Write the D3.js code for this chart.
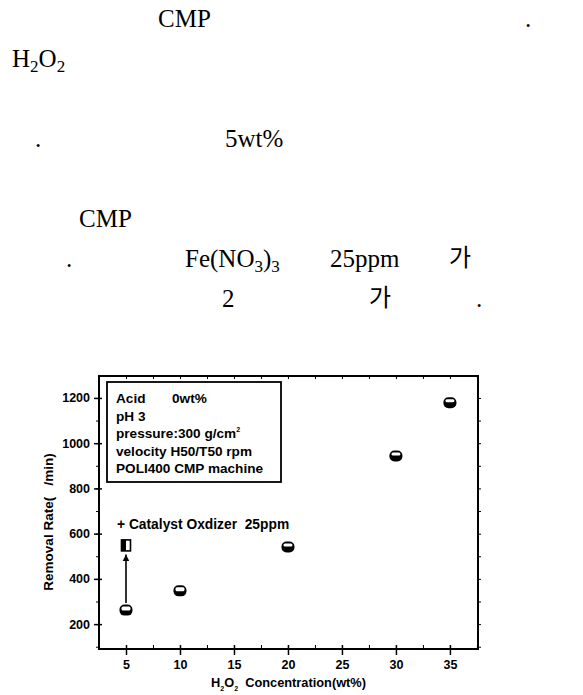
<!DOCTYPE html>
<html>
<head>
<meta charset="utf-8">
<script src="https://cdn.jsdelivr.net/npm/d3@7"></script>
<style>
    body { margin: 0; background: #fff; }
    svg text { fill: #000; }
    .body-text { font-family: "Liberation Serif", "Times New Roman", serif; font-size: 25px; }
    .kor { font-family: "Noto Sans CJK KR", sans-serif; font-size: 24px; }
    .chart-text { font-family: "Liberation Sans", Arial, sans-serif; font-weight: bold; }
</style>
</head>
<body>
<div id="page"></div>
<script>
// H2O2 concentration (wt%) vs removal rate
var concentration = [5, 10, 20, 30, 35]
var removalRate = [262, 347, 541, 943, 1179]
// with catalyst oxidizer Fe(NO3)3 25ppm
var catalystConc = [5]
var catalystRate = [548]

var xTicks = [5, 10, 15, 20, 25, 30, 35]
var yTicks = [200, 400, 600, 800, 1000, 1200]
var legendLines = ['Acid', 'pH 3', 'pressure:300 g/cm', 'velocity H50/T50 rpm', 'POLI400 CMP machine']

var width = 583
var height = 695
var frame = { left: 99, right: 478, top: 376, bottom: 649 }

var svg = d3.select('#page').append('svg')
    .attr('width', width)
    .attr('height', height)

// ---- text above the chart ----
var bodyG = svg.append('g').attr('class', 'body-text')

function put(x, y, str, cls) {
    return bodyG.append('text').attr('x', x).attr('y', y).attr('class', cls || null).text(str)
}

put(158, 27, 'CMP')
put(525, 27, '.')

var h2o2 = bodyG.append('text').attr('x', 12).attr('y', 67)
h2o2.append('tspan').text('H')
h2o2.append('tspan').attr('font-size', '17px').attr('dy', 5).text('2')
h2o2.append('tspan').attr('dy', -5).text('O')
h2o2.append('tspan').attr('font-size', '17px').attr('dy', 5).text('2')

put(35, 147, '.')
put(225, 147, '5wt%')

put(79, 227, 'CMP')
put(66, 267, '.')
var fe = bodyG.append('text').attr('x', 185).attr('y', 267)
fe.append('tspan').text('Fe(NO')
fe.append('tspan').attr('font-size', '17px').attr('dy', 5).text('3')
fe.append('tspan').attr('dy', -5).text(')')
fe.append('tspan').attr('font-size', '17px').attr('dy', 5).text('3')
put(330, 267, '25ppm')
put(449, 266, '가', 'kor')

put(222, 307, '2')
put(369, 306, '가', 'kor')
put(476, 307, '.')

// ---- chart ----
var x = d3.scaleLinear().domain([2.5, 37.6]).range([frame.left, frame.right])
var y = d3.scaleLinear().domain([90, 1297]).range([frame.bottom, frame.top])

var minorX = d3.range(5, 37.6, 2.5)
var minorY = d3.range(100, 1297, 100)

var chart = svg.append('g').attr('class', 'chart-text')

// bottom axis
chart.append('g')
    .attr('transform', 'translate(0,' + frame.bottom + ')')
    .call(d3.axisBottom(x).tickValues(minorX).tickSize(5).tickFormat(''))
    .call(g => g.selectAll('.tick line').attr('y1', -4).attr('y2', 0))
    .call(g => g.select('.domain').remove())
chart.append('g')
    .attr('transform', 'translate(0,' + frame.bottom + ')')
    .call(d3.axisBottom(x).tickValues(xTicks).tickSize(6).tickPadding(5).tickFormat(d3.format('d')))
    .call(g => g.selectAll('.tick line').attr('y1', -4).attr('stroke-width', 1.5))
    .call(g => g.select('.domain').remove())
    .call(g => g.selectAll('text').attr('font-size', '12.5px').attr('font-family', null).attr('font-weight', 'bold'))

// top axis
chart.append('g')
    .attr('transform', 'translate(0,' + frame.top + ')')
    .call(d3.axisTop(x).tickValues(minorX).tickSize(0).tickFormat(''))
    .call(g => g.selectAll('.tick line').attr('y1', 0).attr('y2', 3))
    .call(g => g.select('.domain').remove())

// left axis
chart.append('g')
    .attr('transform', 'translate(' + frame.left + ',0)')
    .call(d3.axisLeft(y).tickValues(minorY).tickSize(3).tickFormat(''))
    .call(g => g.select('.domain').remove())
chart.append('g')
    .attr('transform', 'translate(' + frame.left + ',0)')
    .call(d3.axisLeft(y).tickValues(yTicks).tickSize(5).tickPadding(4).tickFormat(d3.format('d')))
    .call(g => g.selectAll('.tick line').attr('x1', 3).attr('stroke-width', 1.5))
    .call(g => g.select('.domain').remove())
    .call(g => g.selectAll('text').attr('font-size', '12.5px').attr('font-family', null).attr('font-weight', 'bold'))

// right axis
chart.append('g')
    .attr('transform', 'translate(' + frame.right + ',0)')
    .call(d3.axisRight(y).tickValues(minorY).tickSize(3).tickFormat(''))
    .call(g => g.select('.domain').remove())

// frame
chart.append('rect')
    .attr('x', frame.left)
    .attr('y', frame.top)
    .attr('width', frame.right - frame.left)
    .attr('height', frame.bottom - frame.top)
    .attr('fill', 'none')
    .attr('stroke', '#000')
    .attr('stroke-width', 2)

// axis titles
var xTitle = chart.append('text')
    .attr('x', (frame.left + frame.right) / 2)
    .attr('y', 687)
    .attr('text-anchor', 'middle')
    .attr('font-size', '12.8px')
    .style('white-space', 'pre')
xTitle.append('tspan').text('H')
xTitle.append('tspan').attr('font-size', '7px').attr('dy', 4).text('2')
xTitle.append('tspan').attr('dy', -4).text('O')
xTitle.append('tspan').attr('font-size', '7px').attr('dy', 4).text('2')
xTitle.append('tspan').attr('dy', -4).text('  Concentration(wt%)')

chart.append('text')
    .attr('transform', 'translate(53,522) rotate(-90)')
    .attr('text-anchor', 'middle')
    .attr('font-size', '13.5px')
    .style('white-space', 'pre')
    .text('Removal Rate(   /min)')

// legend box
chart.append('rect')
    .attr('x', 107)
    .attr('y', 382)
    .attr('width', 174)
    .attr('height', 100)
    .attr('fill', '#fff')
    .attr('stroke', '#000')
    .attr('stroke-width', 1.8)

legendLines.forEach((t, i) => {
    var txt = chart.append('text')
        .attr('x', 116)
        .attr('y', 403 + i * 17.5)
        .attr('font-size', '13.6px')
        .text(t)
    if (i == 2)
        txt.append('tspan').attr('font-size', '7px').attr('dy', -6).text('2')
})
chart.append('text')
    .attr('x', 172)
    .attr('y', 403)
    .attr('font-size', '13.6px')
    .text('0wt%')

// catalyst annotation
chart.append('text')
    .attr('x', 117)
    .attr('y', 529)
    .attr('font-size', '13.8px')
    .style('white-space', 'pre')
    .text('+ Catalyst Oxdizer  25ppm')

// arrow from plain 5wt% point up to catalyst point
svg.append('defs').append('marker')
    .attr('id', 'head')
    .attr('viewBox', '0 0 10 10')
    .attr('refX', 10)
    .attr('refY', 5)
    .attr('markerWidth', 7)
    .attr('markerHeight', 7)
    .attr('markerUnits', 'userSpaceOnUse')
    .attr('orient', 'auto')
    .append('path')
    .attr('d', 'M0,0L10,5L0,10Z')
    .attr('fill', '#000')

chart.append('line')
    .attr('x1', x(concentration[0]))
    .attr('x2', x(catalystConc[0]))
    .attr('y1', y(removalRate[0]) - 7)
    .attr('y2', y(catalystRate[0]) + 9)
    .attr('stroke', '#000')
    .attr('stroke-width', 1.6)
    .attr('marker-end', 'url(#head)')

// round markers, lower part filled
var pts = concentration.map((c, i) => ({ x: c, y: removalRate[i] }))
var mk = chart.append('g').selectAll('g')
    .data(pts)
    .join('g')
    .attr('transform', d => 'translate(' + x(d.x) + ',' + y(d.y) + ')')
mk.append('rect')
    .attr('x', -6.5).attr('y', -5.5)
    .attr('width', 13).attr('height', 11)
    .attr('rx', 5)
    .attr('fill', '#000')
mk.append('rect')
    .attr('x', -4.5).attr('y', -3.5)
    .attr('width', 9)
    .attr('height', (d, i) => i < 2 ? 4 : 3)
    .attr('rx', 1.5)
    .attr('fill', '#fff')

// catalyst marker: square, left half black
var cm = chart.append('g').selectAll('g')
    .data(catalystConc.map((c, i) => ({ x: c, y: catalystRate[i] })))
    .join('g')
    .attr('transform', d => 'translate(' + x(d.x) + ',' + y(d.y) + ')')
cm.append('rect')
    .attr('x', -4.5).attr('y', -5.5)
    .attr('width', 9).attr('height', 11)
    .attr('fill', '#fff')
    .attr('stroke', '#000')
    .attr('stroke-width', 1.6)
cm.append('rect')
    .attr('x', -4.5).attr('y', -5.5)
    .attr('width', 4.5).attr('height', 11)
    .attr('fill', '#000')
</script>
</body>
</html>
